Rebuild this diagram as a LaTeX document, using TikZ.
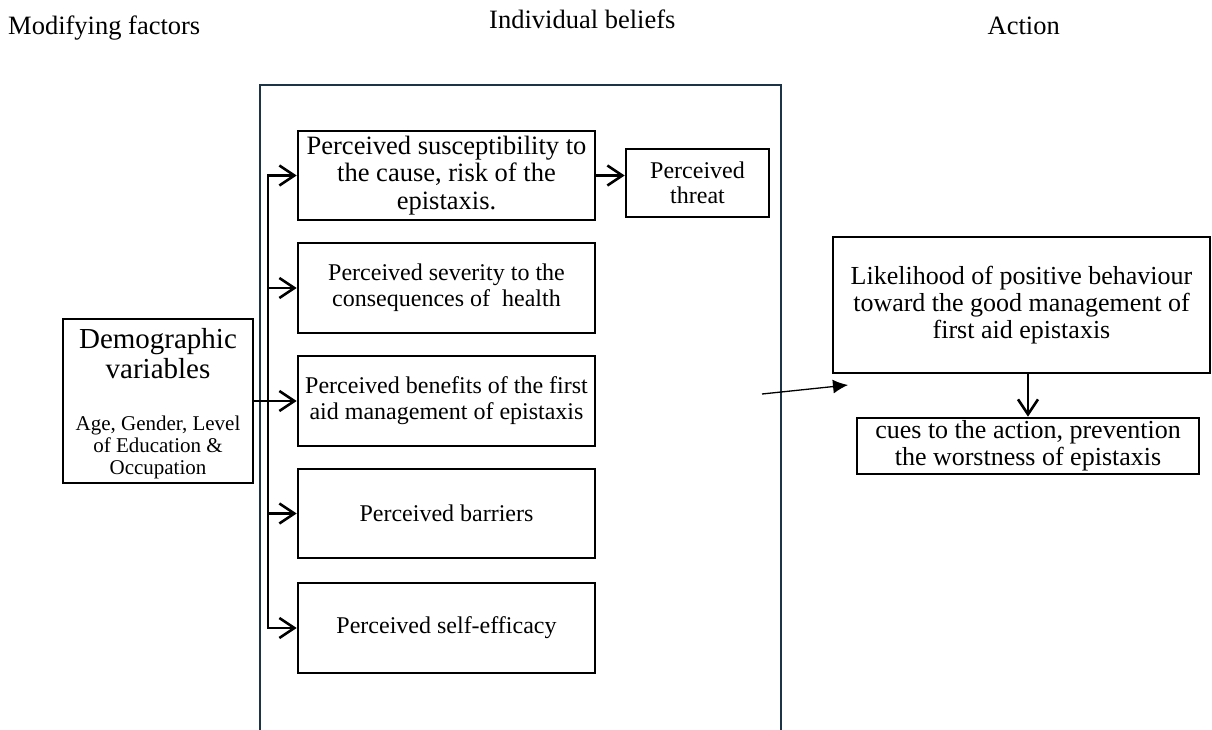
\documentclass[tikz,border=0pt]{standalone}
\usepackage{fontspec}
\setmainfont{Liberation Serif}
\usetikzlibrary{arrows.meta}
\definecolor{framecol}{RGB}{28,52,70}
\newcommand{\myfs}[2]{\fontsize{#1}{#2}\selectfont}
\tikzset{
 box/.style={draw=black, line width=2.6pt, inner sep=0pt, align=center},
 conn/.style={draw=black, line width=2.6pt},
 barb/.style={-{Straight Barb[length=15pt,width=20pt,line width=2.6pt]}},
 barbboth/.style={{Straight Barb[length=15pt,width=20pt,line width=2.6pt]}-{Straight Barb[length=15pt,width=20pt,line width=2.6pt]}},
 title/.style={inner sep=0pt, font=\myfs{26.5}{30}},
 thin/.style={draw=black, line width=1.3pt, -{Latex[length=15pt,width=14pt]}},
}
\begin{document}
\begin{tikzpicture}[x=1pt,y=-1pt]
\useasboundingbox (0,0) rectangle (1212,730);
% titles
\node[title, anchor=base west] (t1) at (8,35) {Modifying factors};
\node[title, anchor=base west] (t2) at (489,29) {Individual beliefs};
\node[title, anchor=base east] (t3) at (1060,35) {Action};
% frame
\draw[framecol, line width=2.6pt] (260,731) -- (260,85) -- (781,85) -- (781,731);
% boxes
\node[box, minimum width=297pt, minimum height=89pt, font=\myfs{26.5}{27.5}] (b1) at (446.5,175.5)
  {Perceived susceptibility to\\the cause, risk of the\\epistaxis.};
\node[box, minimum width=143pt, minimum height=68pt, font=\myfs{24}{25}] (thr) at (697.5,183)
  {Perceived\\threat};
\node[box, minimum width=297pt, minimum height=90pt, font=\myfs{24}{26}] (b2) at (446.5,288)
  {Perceived severity to the\\consequences of~~health};
\node[box, minimum width=297pt, minimum height=90pt, font=\myfs{24}{26}] (b3) at (446.5,401)
  {Perceived benefits of the first\\aid management of epistaxis};
\node[box, minimum width=297pt, minimum height=89pt, font=\myfs{24}{26}] (b4) at (446.5,513.5)
  {Perceived barriers};
\node[box, minimum width=297pt, minimum height=90pt, font=\myfs{24}{26}] (b5) at (446.5,628)
  {Perceived self-efficacy};
\node[box, minimum width=190pt, minimum height=164pt] (demo) at (158,401)
  {\parbox{186pt}{\centering\vspace*{6pt}\myfs{29}{30}Demographic\\variables\par\vspace{30pt}
   \myfs{21}{22}Age, Gender, Level\\of Education \&\\Occupation}};
\node[box, minimum width=377pt, minimum height=136pt, font=\myfs{26}{27}] (lik) at (1021.5,305)
  {Likelihood of positive behaviour\\toward the good management of\\first aid epistaxis};
\node[box, minimum width=342pt, minimum height=56pt, font=\myfs{26}{27}] (cues) at (1028,446)
  {cues to the action, prevention\\the worstness of epistaxis};
% bus connectors
\coordinate (bt) at (268,175.5);
\coordinate (bb) at (268,628);
\draw[conn, barbboth, line join=miter] (b5.west) -- (bb) -- (bt) -- (b1.west);
\draw[conn, barb] (bt |- b2.west) -- (b2.west);
\draw[conn, barb] (bt |- b4.west) -- (b4.west);
\draw[conn, barb] (demo.east) -- (b3.west);
\draw[conn, barb] (b1.east) -- (thr.west |- b1.east);
\draw[conn, barb] (lik.south -| cues.north) -- (cues.north);
% free arrow
\coordinate (fa) at (762,394);
\coordinate (fb) at (848,385);
\draw[thin] (fa) -- (fb);
\end{tikzpicture}
\end{document}
